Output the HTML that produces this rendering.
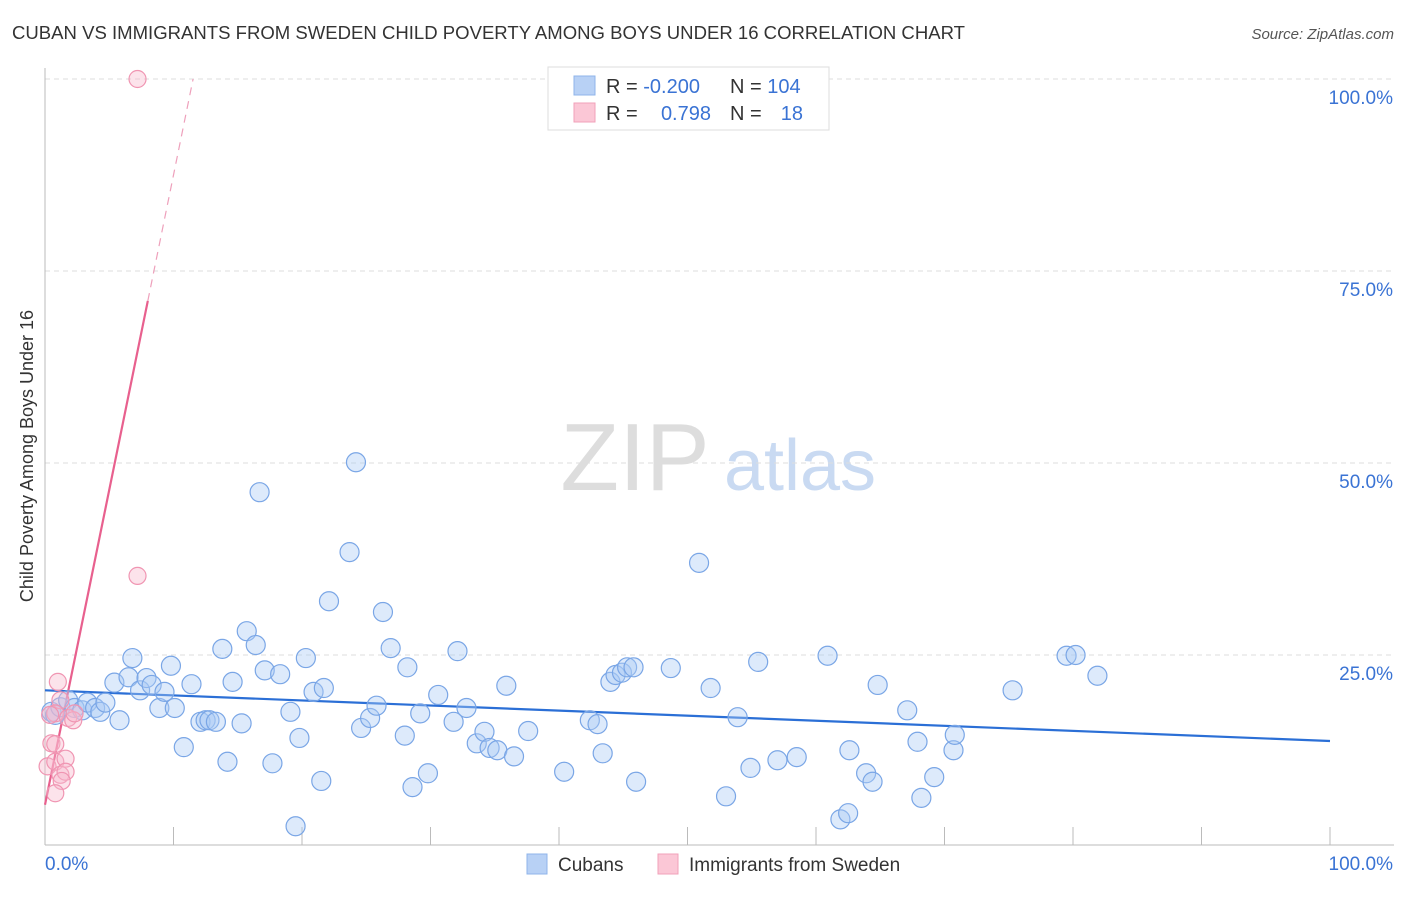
<!DOCTYPE html>
<html><head><meta charset="utf-8"><style>
body{margin:0;background:#fff;font-family:"Liberation Sans",sans-serif}
svg text{font-family:"Liberation Sans",sans-serif}
</style></head><body>
<svg id="chart" width="1406" height="892" xmlns="http://www.w3.org/2000/svg">
<text x="12" y="39" font-size="18" fill="#333" textLength="953" lengthAdjust="spacingAndGlyphs">CUBAN VS IMMIGRANTS FROM SWEDEN CHILD POVERTY AMONG BOYS UNDER 16 CORRELATION CHART</text>
<text x="1394" y="39" font-size="15" fill="#555" font-style="italic" text-anchor="end">Source: ZipAtlas.com</text>
<text x="33" y="456" font-size="18" fill="#333" text-anchor="middle" transform="rotate(-90 33 456)">Child Poverty Among Boys Under 16</text>
<g><text x="635" y="490" font-size="96" fill="#ddd" font-family="Liberation Serif" text-anchor="middle">ZIP</text><text x="800" y="490" font-size="72" fill="#c9daf2" text-anchor="middle">atlas</text></g>
<g id="grid"></g><g id="axes"></g><g id="trend"></g><g id="pts"></g>
<g>
<rect x="548" y="67" width="281" height="63" fill="#fff" stroke="#ddd"/>
<rect x="574" y="76" width="21" height="19" fill="#b8d1f5" stroke="#8fb4ea"/>
<rect x="574" y="103" width="21" height="19" fill="#fbc7d6" stroke="#f2a0b9"/>
<text x="606" y="93" font-size="20" fill="#333">R = <tspan fill="#3a73d4">-0.200</tspan></text>
<text x="730" y="93" font-size="20" fill="#333">N = <tspan fill="#3a73d4">104</tspan></text>
<text x="606" y="120" font-size="20" fill="#333">R = </text><text x="711" y="120" font-size="20" fill="#3a73d4" text-anchor="end">0.798</text>
<text x="730" y="120" font-size="20" fill="#333">N = </text><text x="803" y="120" font-size="20" fill="#3a73d4" text-anchor="end">18</text>
</g>
<g>
<rect x="527" y="854" width="20" height="20" fill="#b8d1f5" stroke="#8fb4ea"/>
<text x="558" y="871" font-size="19" fill="#333">Cubans</text>
<rect x="658" y="854" width="20" height="20" fill="#fbc7d6" stroke="#f2a0b9"/>
<text x="689" y="871" font-size="19" fill="#333">Immigrants from Sweden</text>
</g>
</svg>
<script>
const blueX=[0.5,0.8,1.2,1.8,2.3,2.9,3.3,3.9,4.3,4.7,5.4,5.8,6.5,6.8,7.4,7.9,8.3,8.9,9.3,9.8,10.1,10.8,11.4,12.1,12.5,12.8,13.3,13.8,14.2,14.6,15.3,15.7,16.4,16.7,17.1,17.7,18.3,19.1,19.5,19.8,20.3,20.9,21.5,21.7,22.1,23.7,24.2,24.6,25.3,25.8,26.3,26.9,28.0,28.2,28.6,29.2,29.8,30.6,31.8,32.1,32.8,33.6,34.2,34.6,35.2,35.9,36.5,37.6,40.4,42.4,43.0,43.4,44.0,44.4,44.9,45.3,45.8,46.0,48.7,50.9,51.8,53.0,53.9,54.9,55.5,57.0,58.5,60.9,61.9,62.5,62.6,63.9,64.4,64.8,67.1,67.9,68.2,69.2,70.7,70.8,75.3,79.5,80.2,81.9];
const blueY=[17.6,17.2,18.2,19.1,18.1,17.8,18.8,18.1,17.6,18.8,21.4,16.5,22.1,24.6,20.4,22.0,21.1,18.1,20.2,23.6,18.1,13.0,21.2,16.3,16.5,16.5,16.3,25.8,11.1,21.5,16.1,28.1,26.3,46.2,23.0,10.9,22.5,17.6,2.7,14.2,24.6,20.2,8.6,20.7,32.0,38.4,50.1,15.5,16.8,18.4,30.6,25.9,14.5,23.4,7.8,17.4,9.6,19.8,16.3,25.5,18.1,13.5,15.0,12.9,12.6,21.0,11.8,15.1,9.8,16.5,16.0,12.2,21.5,22.4,22.7,23.4,23.4,8.5,23.3,37.0,20.7,6.6,16.9,10.3,24.1,11.3,11.7,24.9,3.6,4.4,12.6,9.6,8.5,21.1,17.8,13.7,6.4,9.1,12.6,14.6,20.4,24.9,25.0,22.3];
const pinkX=[7.2,7.2,1.0,1.2,0.8,0.4,0.5,0.8,0.2,0.8,1.6,1.2,1.6,1.3,0.8,1.8,2.2,2.3];
const pinkY=[100,35.3,21.5,19.1,17.4,17.2,13.5,13.4,10.5,11.1,11.5,9.4,9.8,8.6,7.0,16.8,16.5,17.4];
const yTicks=[25,50,75,100];
const yTickLabels=["25.0%","50.0%","75.0%","100.0%"];
const xTicks=[0,10,20,30,40,50,60,70,80,90,100];
const blueTrend=[20.4,13.8];
const pinkTrend=[5.5,8.2];
const sx=v=>45+v*12.85, sy=v=>847-v*7.68;
const NS="http://www.w3.org/2000/svg";
function mk(p,t,a){const e=document.createElementNS(NS,t);for(const k in a)e.setAttribute(k,a[k]);document.getElementById(p).appendChild(e);return e;}
yTicks.forEach((t,i)=>{
 const l=mk('grid','line',{x1:45,x2:1394,y1:sy(t),y2:sy(t),stroke:'#ddd','stroke-dasharray':'5,4'});
 
 
 const tx=mk('grid','text',{x:1393,y:sy(t)+25,'font-size':19,fill:'#3a73d4','text-anchor':'end'});tx.textContent=yTickLabels[i];
 
 
});
const ax=mk('axes','line',{x1:45,x2:45,y1:68,y2:845,stroke:'#bbb'});


const bx=mk('axes','line',{x1:45,x2:1394,y1:845,y2:845,stroke:'#bbb'});


xTicks.forEach(t=>{const l=mk('axes','line',{x1:sx(t),x2:sx(t),y1:827,y2:845,stroke:'#bbb'});
 
 });
const x0=mk('axes','text',{x:45,y:870,'font-size':19,fill:'#3a73d4'});x0.textContent='0.0%';


const x1=mk('axes','text',{x:1393,y:870,'font-size':19,fill:'#3a73d4','text-anchor':'end'});x1.textContent='100.0%';


blueX.forEach((x,i)=>{const c=mk('pts','circle',{cx:sx(x),cy:sy(blueY[i]),r:9.5,fill:'rgba(170,202,244,0.4)',stroke:'#7aa6e6','stroke-width':1.2});
 
 });
pinkX.forEach((x,i)=>{const c=mk('pts','circle',{cx:sx(x),cy:sy(pinkY[i]),r:8.5,fill:'rgba(248,185,205,0.4)',stroke:'#f095b2','stroke-width':1.2});
 
 });
const bt=mk('trend','line',{x1:sx(0),y1:sy(blueTrend[0]),x2:sx(100),y2:sy(blueTrend[1]),stroke:'#2b6fd6','stroke-width':2.2});


const pEnd=(100-pinkTrend[0])/pinkTrend[1];
const ps=mk('trend','line',{x1:sx(0),y1:sy(pinkTrend[0]),x2:sx(8),y2:sy(pinkTrend[0]+pinkTrend[1]*8),stroke:'#e8608e','stroke-width':2.2});


const pd=mk('trend','line',{x1:sx(8),y1:sy(pinkTrend[0]+pinkTrend[1]*8),x2:sx(pEnd),y2:sy(100),stroke:'#eea0bb','stroke-width':1.2,'stroke-dasharray':'8,6'});


</script>
</body></html>
